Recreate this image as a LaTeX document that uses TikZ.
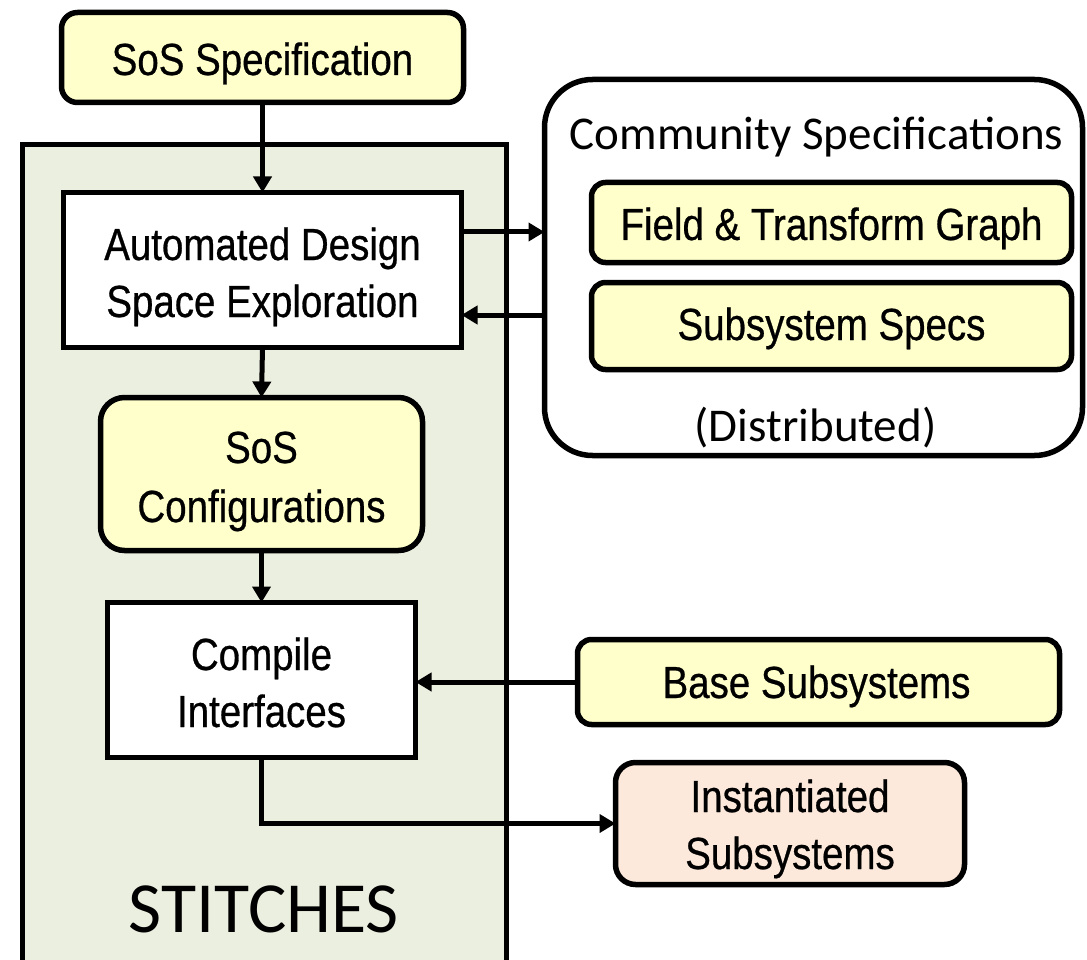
\documentclass[tikz,border=0pt]{standalone}
\usepackage{fontspec}
\usetikzlibrary{arrows.meta}
\newfontfamily\narrowsans[FakeStretch=0.855,FakeBold=0.6]{Liberation Sans}
\newfontfamily\calibrisans{Carlito}
\definecolor{specyellow}{HTML}{FFFFCC}
\definecolor{panelgreen}{HTML}{EBEFDF}
\definecolor{outpeach}{HTML}{FCE9DB}

\begin{document}
\begin{tikzpicture}[x=1pt,y=-1pt,
  blk/.style={draw=black, line width=5.5pt, inner sep=0pt, outer sep=0pt},
  spec/.style={blk, fill=specyellow},
  plain/.style={blk, fill=white},
  lbl/.style={inner sep=0pt, anchor=base, font=\narrowsans\fontsize{45}{57}\selectfont},
  clbl/.style={inner sep=0pt, anchor=base, font=\calibrisans\fontsize{47}{57}\selectfont},
  arr/.style={line width=5pt, -{Triangle[length=16pt,width=18pt]}}]
\useasboundingbox (0,0) rectangle (1087,960);

% STITCHES panel (runs past the lower edge)
\node[draw=black, line width=5pt, fill=panelgreen, minimum width=484pt, minimum height=835pt, inner sep=0pt]
  (panel) at (264,562.5) {};
\node[inner sep=0pt, anchor=base, font=\calibrisans\fontsize{72}{80}\selectfont] (panelT) at (264,932) {STITCHES};

% main flow
\node[spec, rounded corners=16pt, minimum width=402pt, minimum height=90pt] (sspec) at (262.5,57.5) {};
\node[lbl] (sspecT) at (262.5,75) {SoS Specification};

\node[plain, minimum width=398pt, minimum height=155pt] (adse) at (262.5,270) {};
\node[lbl] (adseT) at (262.5,260) {\begin{tabular}[t]{@{}c@{}}Automated Design\\Space Exploration\end{tabular}};

\node[spec, rounded corners=24pt, minimum width=322pt, minimum height=153pt] (conf) at (261.5,474) {};
\node[lbl] (confT) at (261.5,463) {\begin{tabular}[t]{@{}c@{}}SoS\\[2pt]Configurations\end{tabular}};

\node[plain, minimum width=308pt, minimum height=155pt] (ci) at (261.5,680) {};
\node[lbl] (ciT) at (261.5,670) {\begin{tabular}[t]{@{}c@{}}Compile\\Interfaces\end{tabular}};

% community specifications
\node[blk, fill=white, rounded corners=48pt, minimum width=538pt, minimum height=376pt] (comm) at (813.5,267.5) {};
\node[clbl] (commT) at (816.5,150) {Community Specifications};
\node[clbl] (commD) at (815.5,441) {(Distributed)};

\node[spec, rounded corners=14pt, minimum width=480pt, minimum height=80pt] (ftg) at (831.5,222.5) {};
\node[lbl] (ftgT) at (831.5,240) {Field \& Transform Graph};

\node[spec, rounded corners=14pt, minimum width=480pt, minimum height=87pt] (ssp) at (831.5,326) {};
\node[lbl] (sspT) at (831.5,340) {Subsystem Specs};

% subsystems
\node[spec, rounded corners=14pt, minimum width=482pt, minimum height=85pt] (base) at (818.5,682) {};
\node[lbl] (baseT) at (816.5,698) {Base Subsystems};

\node[blk, fill=outpeach, rounded corners=20pt, minimum width=349pt, minimum height=122pt] (inst) at (790,823.5) {};
\node[lbl] (instT) at (790,812) {\begin{tabular}[t]{@{}c@{}}Instantiated\\Subsystems\end{tabular}};

% connectors
\draw[arr] (sspec.south) -- (adse.north);
\draw[arr] ([yshift=38pt]adse.east) -- ([yshift=38pt]adse.east -| comm.west);
\draw[arr] ([yshift=-45pt]adse.east -| comm.west) -- ([yshift=-45pt]adse.east);
\draw[arr] (adse.south) -- (conf.north);
\draw[arr] (conf.south) -- (ci.north);
\draw[arr] (base.west) -- (base.west -| ci.east);
\draw[arr] (ci.south) |- (inst.west);
\end{tikzpicture}
\end{document}
